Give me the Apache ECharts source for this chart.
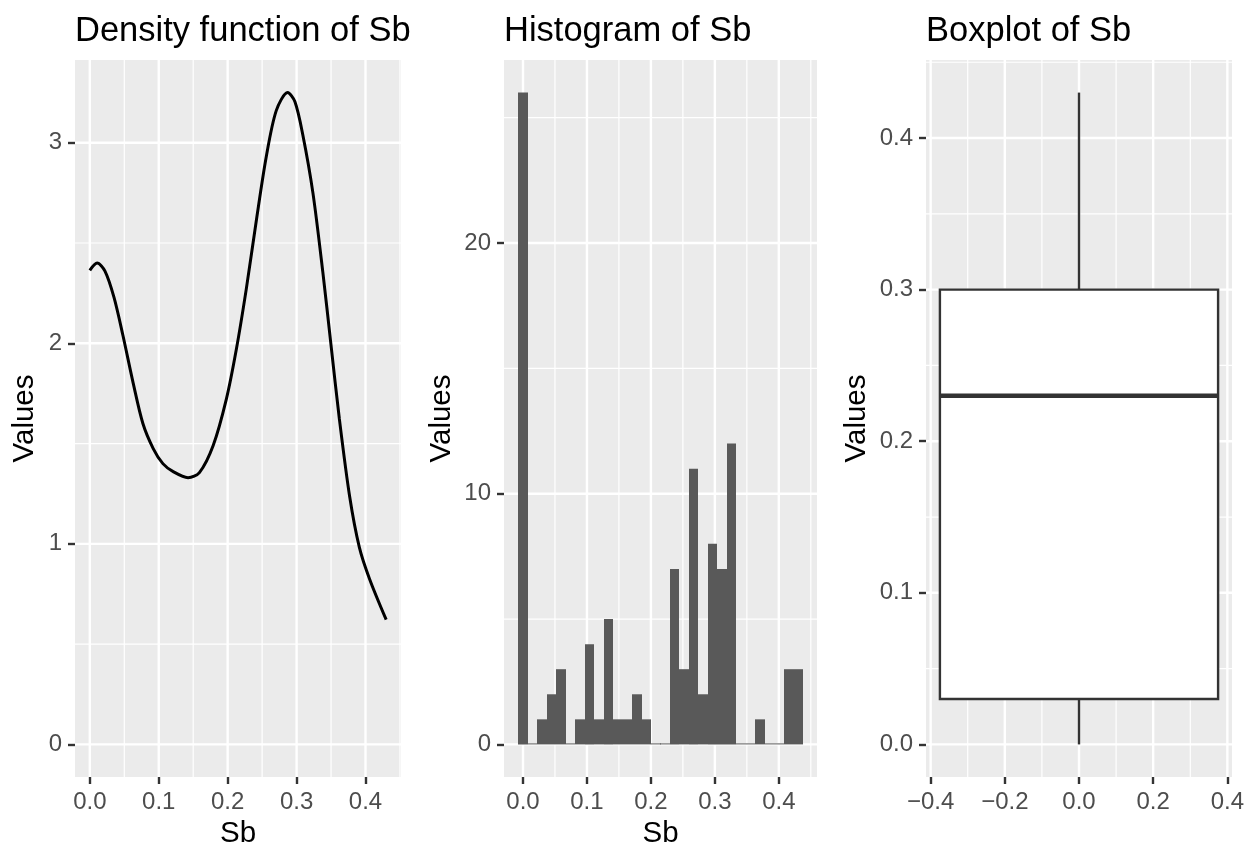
<!DOCTYPE html>
<html>
<head>
<meta charset="utf-8">
<script src="https://cdn.jsdelivr.net/npm/echarts@6/dist/echarts.min.js"></script>
<style>
html, body { margin: 0; padding: 0; background: #fff; }
#chart { width: 1253px; height: 845px; }
</style>
</head>
<body>
<div id="chart"></div>
<script>
//----------------------Data----------------------
// density curve of Sb
let density_x = [0, 0.0106, 0.022, 0.035, 0.048, 0.063, 0.077, 0.092, 0.106, 0.121, 0.1425, 0.159, 0.179, 0.198, 0.2126, 0.227,
    0.2415, 0.256, 0.2705, 0.287, 0.2975, 0.309, 0.3237, 0.338, 0.350, 0.362, 0.377, 0.391, 0.406, 0.43];
let density_y = [2.364, 2.40, 2.36, 2.23, 2.04, 1.80, 1.60, 1.475, 1.40, 1.36, 1.33, 1.355, 1.49, 1.72, 1.97, 2.27,
    2.61, 2.93, 3.16, 3.25, 3.205, 3.04, 2.75, 2.357, 1.99, 1.625, 1.236, 0.984, 0.824, 0.622];
// histogram (30 bins)
let hist_centers = [0, 0.0148, 0.0297, 0.0445, 0.0593, 0.0741, 0.0890, 0.1038, 0.1186, 0.1334, 0.1483, 0.1631, 0.1779,
    0.1928, 0.2076, 0.2224, 0.2372, 0.2521, 0.2669, 0.2817, 0.2966, 0.3114, 0.3262, 0.3410, 0.3559, 0.3707, 0.3855,
    0.4003, 0.4152, 0.4300];
let hist_counts = [26, 0, 1, 2, 3, 0, 1, 4, 1, 5, 1, 1, 2, 1, 0, 0, 7, 3, 11, 2, 8, 7, 12, 0, 0, 1, 0, 0, 3, 3];
let hist_bin_width = 0.01483;
// boxplot: lower whisker, q1, median, q3, upper whisker
let box_stats = [0, 0.03, 0.23, 0.30, 0.43];
let box_center = 0;
let box_half_width = 0.375;
// ticks
let density_x_ticks = [0, 0.1, 0.2, 0.3, 0.4];
let density_x_minor = [0.05, 0.15, 0.25, 0.35, 0.45];
let density_y_ticks = [0, 1, 2, 3];
let density_y_minor = [0.5, 1.5, 2.5];
let hist_x_ticks = [0, 0.1, 0.2, 0.3, 0.4];
let hist_x_minor = [0.05, 0.15, 0.25, 0.35, 0.45];
let hist_y_ticks = [0, 10, 20];
let hist_y_minor = [5, 15, 25];
let box_x_ticks = [-0.4, -0.2, 0, 0.2, 0.4];
let box_x_minor = [-0.3, -0.1, 0.1, 0.3];
let box_y_ticks = [0, 0.1, 0.2, 0.3, 0.4];
let box_y_minor = [0.05, 0.15, 0.25, 0.35, 0.45];

//--------------------Location--------------------
let font_family = "Liberation Sans";
let panel_top = 60;
let panel_height = 717;
let grid_list = [
    {left: 75, top: panel_top, width: 326, height: panel_height},
    {left: 504, top: panel_top, width: 313, height: panel_height},
    {left: 926, top: panel_top, width: 306, height: panel_height}
];
grid_list.forEach(function (g) {
    g.show = true;
    g.backgroundColor = "#EBEBEB";
    g.borderWidth = 0;
    g.containLabel = false;
    g.outerBoundsMode = "none";
});
let ranges = [
    {x: [-0.0215, 0.4515], y: [-0.1625, 3.4125]},
    {x: [-0.0297, 0.4597], y: [-1.3, 27.3]},
    {x: [-0.4125, 0.4125], y: [-0.0215, 0.4515]}
];

//----------------------Axis----------------------
function fmt1(v) {
    let s = Math.abs(v).toFixed(1);
    return v < -1e-9 ? "\u2212" + s : s;
}
function fmt0(v) { return String(Math.round(v)); }

function make_axis(dim, idx, ticks, fmt, name, gap) {
    let r = ranges[idx][dim];
    return {
        type: "value",
        gridIndex: idx,
        min: r[0],
        max: r[1],
        position: dim === "x" ? "bottom" : "left",
        axisLine: {show: false, onZero: false},
        splitLine: {show: false},
        axisTick: {show: true, length: 7, customValues: ticks, lineStyle: {color: "#333333", width: 2.4}},
        axisLabel: {
            show: true, customValues: ticks, margin: 13, color: "#4D4D4D",
            fontSize: 24, fontFamily: font_family,
            formatter: fmt
        },
        name: name,
        nameLocation: "middle",
        nameGap: gap,
        nameTextStyle: {color: "#000", fontSize: 29.5, fontFamily: font_family}
    };
}
let x_axes = [
    make_axis("x", 0, density_x_ticks, fmt1, "Sb", 37),
    make_axis("x", 1, hist_x_ticks, fmt1, "Sb", 37),
    make_axis("x", 2, box_x_ticks, fmt1, "", 37)
];
let y_axes = [
    make_axis("y", 0, density_y_ticks, fmt0, "Values", 35),
    make_axis("y", 1, hist_y_ticks, fmt0, "Values", 47),
    make_axis("y", 2, box_y_ticks, fmt1, "Values", 54)
];

//---------------------Series---------------------
// panel grid lines (white, major + minor)
function grid_lines_series(idx, xMaj, xMin, yMaj, yMin) {
    let data = [];
    xMin.forEach(function (v) { data.push([v, 0, 0]); });
    yMin.forEach(function (v) { data.push([v, 1, 0]); });
    xMaj.forEach(function (v) { data.push([v, 0, 1]); });
    yMaj.forEach(function (v) { data.push([v, 1, 1]); });
    let r = ranges[idx];
    return {
        type: "custom",
        xAxisIndex: idx,
        yAxisIndex: idx,
        z: 1,
        silent: true,
        data: data,
        renderItem: function (params, api) {
            let cs = params.coordSys;
            let v = api.value(0), dir = api.value(1);
            let w = api.value(2) ? 2.4 : 1.2;
            if (dir === 0) {
                let px = api.coord([v, r.y[0]])[0];
                return {type: "line", shape: {x1: px, y1: cs.y, x2: px, y2: cs.y + cs.height},
                    style: {stroke: "#FFFFFF", lineWidth: w}};
            }
            let py = api.coord([r.x[0], v])[1];
            return {type: "line", shape: {x1: cs.x, y1: py, x2: cs.x + cs.width, y2: py},
                style: {stroke: "#FFFFFF", lineWidth: w}};
        }
    };
}

let density_data = density_x.map(function (x, i) { return [x, density_y[i]]; });
let density_series = {
    type: "line",
    xAxisIndex: 0,
    yAxisIndex: 0,
    z: 3,
    data: density_data,
    showSymbol: false,
    smooth: 0.3,
    lineStyle: {color: "#000000", width: 3}
};

let hist_data = hist_centers.map(function (c, i) { return [c, hist_counts[i]]; });
let hist_series = {
    type: "custom",
    xAxisIndex: 1,
    yAxisIndex: 1,
    z: 3,
    data: hist_data,
    renderItem: function (params, api) {
        let c = api.value(0), n = api.value(1);
        let p0 = api.coord([c - hist_bin_width / 2, 0]);
        let p1 = api.coord([c + hist_bin_width / 2, n]);
        let x0 = Math.round(p0[0]), x1 = Math.round(p1[0]);
        let h = Math.max(p0[1] - p1[1], 1);
        return {
            type: "rect",
            shape: {x: x0, y: p0[1] - h, width: x1 - x0, height: h},
            style: {fill: "#595959"}
        };
    }
};

let box_series = {
    type: "custom",
    xAxisIndex: 2,
    yAxisIndex: 2,
    z: 3,
    data: [[box_center].concat(box_stats)],
    renderItem: function (params, api) {
        let cx = api.value(0);
        let lo = api.value(1), q1 = api.value(2), med = api.value(3), q3 = api.value(4), hi = api.value(5);
        let pc = api.coord([cx, lo]);
        let pl = api.coord([cx - box_half_width, q3]);
        let pr = api.coord([cx + box_half_width, q1]);
        let ph = api.coord([cx, hi]);
        let pq1 = api.coord([cx, q1]);
        let pq3 = api.coord([cx, q3]);
        let pm = api.coord([cx, med]);
        let stroke = "#333333";
        return {
            type: "group",
            children: [
                {type: "line", shape: {x1: pc[0], y1: pc[1], x2: pq1[0], y2: pq1[1]}, style: {stroke: stroke, lineWidth: 2.4}},
                {type: "line", shape: {x1: pq3[0], y1: pq3[1], x2: ph[0], y2: ph[1]}, style: {stroke: stroke, lineWidth: 2.4}},
                {type: "rect", shape: {x: pl[0], y: pl[1], width: pr[0] - pl[0], height: pr[1] - pl[1]},
                    style: {fill: "#FFFFFF", stroke: stroke, lineWidth: 2.4}},
                {type: "line", shape: {x1: pl[0], y1: pm[1], x2: pr[0], y2: pm[1]}, style: {stroke: stroke, lineWidth: 4.6}}
            ]
        };
    }
};

let series_list = [
    grid_lines_series(0, density_x_ticks, density_x_minor, density_y_ticks, density_y_minor),
    grid_lines_series(1, hist_x_ticks, hist_x_minor, hist_y_ticks, hist_y_minor),
    grid_lines_series(2, box_x_ticks, box_x_minor, box_y_ticks, box_y_minor),
    density_series,
    hist_series,
    box_series
];

//---------------------Titles---------------------
let title_texts = ["Density function of Sb", "Histogram of Sb", "Boxplot of Sb"];
let title_list = title_texts.map(function (t, i) {
    return {
        text: t,
        left: grid_list[i].left,
        top: 14,
        padding: 0,
        textStyle: {color: "#000", fontSize: 34.5, fontWeight: "normal", fontFamily: font_family}
    };
});

//------------------Generate Graph------------------
let chart = echarts.init(document.getElementById("chart"));
let option = {
    backgroundColor: "#FFFFFF",
    animation: false,
    title: title_list,
    grid: grid_list,
    xAxis: x_axes,
    yAxis: y_axes,
    series: series_list
};
chart.setOption(option);
</script>
</body>
</html>
